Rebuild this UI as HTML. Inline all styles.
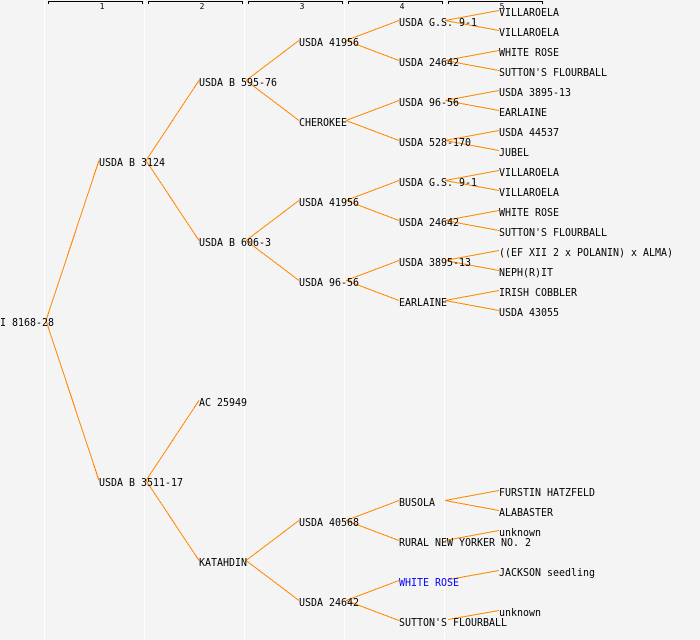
<!DOCTYPE html>
<html><head><meta charset="utf-8"><style>
html,body{margin:0;padding:0;background:#f4f4f4}
svg{display:block}
text{font-family:"DejaVu Sans Mono","Liberation Mono",monospace;font-size:11px;fill:#000}
.h{font-size:8px;text-anchor:middle}
</style></head><body>
<svg width="700" height="640" viewBox="0 0 700 640" xmlns="http://www.w3.org/2000/svg">
<rect width="700" height="640" fill="#f4f4f4"/>
<g stroke="#fff" stroke-width="1" shape-rendering="crispEdges">
<path d="M44.5 0V640M144.5 0V640M244.5 0V640M344.5 0V640M444.5 0V640"/>
</g>
<g fill="none" stroke="#000" stroke-width="1" shape-rendering="crispEdges">
<path d="M48.5 4V1.5H142.5V4M148.5 4V1.5H242.5V4M248.5 4V1.5H342.5V4M348.5 4V1.5H442.5V4M448.5 4V1.5H542.5V4"/>
</g>
<text class="h" x="102" y="9">1</text><text class="h" x="202" y="9">2</text><text class="h" x="302" y="9">3</text><text class="h" x="402" y="9">4</text><text class="h" x="502" y="9">5</text>
<g fill="none" stroke="#ff8800" stroke-width="1" shape-rendering="crispEdges" transform="translate(0,-0.5)">
<path d="M46 321L99 161M46 321L99 481"/>
<path d="M146 161L199 81M146 161L199 241M146 481L199 401M146 481L199 561"/>
<path d="M246 81L299 41M246 81L299 121M246 241L299 201M246 241L299 281M246 561L299 521M246 561L299 601"/>
<path d="M346 41L399 21M346 41L399 61M346 121L399 101M346 121L399 141M346 201L399 181M346 201L399 221M346 281L399 261M346 281L399 301M346 521L399 501M346 521L399 541M346 601L399 581M346 601L399 621"/>
<path d="M445 21L499 11M445 21L499 31M445 61L499 51M445 61L499 71M445 101L499 91M445 101L499 111M445 141L499 131M445 141L499 151M445 181L499 171M445 181L499 191M445 221L499 211M445 221L499 231M445 261L499 251M445 261L499 271M445 301L499 291M445 301L499 311M445 501L499 491M445 501L499 511M445 541L499 531M449 580L499 571M448 620L499 611"/>
</g>
<text x="0" y="326" textLength="54" lengthAdjust="spacingAndGlyphs">I 8168-28</text>
<text x="99" y="166" textLength="66" lengthAdjust="spacingAndGlyphs">USDA B 3124</text>
<text x="99" y="486" textLength="84" lengthAdjust="spacingAndGlyphs">USDA B 3511-17</text>
<text x="199" y="86" textLength="78" lengthAdjust="spacingAndGlyphs">USDA B 595-76</text>
<text x="199" y="246" textLength="72" lengthAdjust="spacingAndGlyphs">USDA B 606-3</text>
<text x="199" y="406" textLength="48" lengthAdjust="spacingAndGlyphs">AC 25949</text>
<text x="199" y="566" textLength="48" lengthAdjust="spacingAndGlyphs">KATAHDIN</text>
<text x="299" y="46" textLength="60" lengthAdjust="spacingAndGlyphs">USDA 41956</text>
<text x="299" y="126" textLength="48" lengthAdjust="spacingAndGlyphs">CHEROKEE</text>
<text x="299" y="206" textLength="60" lengthAdjust="spacingAndGlyphs">USDA 41956</text>
<text x="299" y="286" textLength="60" lengthAdjust="spacingAndGlyphs">USDA 96-56</text>
<text x="299" y="526" textLength="60" lengthAdjust="spacingAndGlyphs">USDA 40568</text>
<text x="299" y="606" textLength="60" lengthAdjust="spacingAndGlyphs">USDA 24642</text>
<text x="399" y="26" textLength="78" lengthAdjust="spacingAndGlyphs">USDA G.S. 9-1</text>
<text x="399" y="66" textLength="60" lengthAdjust="spacingAndGlyphs">USDA 24642</text>
<text x="399" y="106" textLength="60" lengthAdjust="spacingAndGlyphs">USDA 96-56</text>
<text x="399" y="146" textLength="72" lengthAdjust="spacingAndGlyphs">USDA 528-170</text>
<text x="399" y="186" textLength="78" lengthAdjust="spacingAndGlyphs">USDA G.S. 9-1</text>
<text x="399" y="226" textLength="60" lengthAdjust="spacingAndGlyphs">USDA 24642</text>
<text x="399" y="266" textLength="72" lengthAdjust="spacingAndGlyphs">USDA 3895-13</text>
<text x="399" y="306" textLength="48" lengthAdjust="spacingAndGlyphs">EARLAINE</text>
<text x="399" y="506" textLength="36" lengthAdjust="spacingAndGlyphs">BUSOLA</text>
<text x="399" y="546" textLength="132" lengthAdjust="spacingAndGlyphs">RURAL NEW YORKER NO. 2</text>
<text x="399" y="586" textLength="60" lengthAdjust="spacingAndGlyphs" style="fill:#0000ff">WHITE ROSE</text>
<text x="399" y="626" textLength="108" lengthAdjust="spacingAndGlyphs">SUTTON'S FLOURBALL</text>
<text x="499" y="16" textLength="60" lengthAdjust="spacingAndGlyphs">VILLAROELA</text>
<text x="499" y="36" textLength="60" lengthAdjust="spacingAndGlyphs">VILLAROELA</text>
<text x="499" y="56" textLength="60" lengthAdjust="spacingAndGlyphs">WHITE ROSE</text>
<text x="499" y="76" textLength="108" lengthAdjust="spacingAndGlyphs">SUTTON'S FLOURBALL</text>
<text x="499" y="96" textLength="72" lengthAdjust="spacingAndGlyphs">USDA 3895-13</text>
<text x="499" y="116" textLength="48" lengthAdjust="spacingAndGlyphs">EARLAINE</text>
<text x="499" y="136" textLength="60" lengthAdjust="spacingAndGlyphs">USDA 44537</text>
<text x="499" y="156" textLength="30" lengthAdjust="spacingAndGlyphs">JUBEL</text>
<text x="499" y="176" textLength="60" lengthAdjust="spacingAndGlyphs">VILLAROELA</text>
<text x="499" y="196" textLength="60" lengthAdjust="spacingAndGlyphs">VILLAROELA</text>
<text x="499" y="216" textLength="60" lengthAdjust="spacingAndGlyphs">WHITE ROSE</text>
<text x="499" y="236" textLength="108" lengthAdjust="spacingAndGlyphs">SUTTON'S FLOURBALL</text>
<text x="499" y="256" textLength="174" lengthAdjust="spacingAndGlyphs">((EF XII 2 x POLANIN) x ALMA)</text>
<text x="499" y="276" textLength="54" lengthAdjust="spacingAndGlyphs">NEPH(R)IT</text>
<text x="499" y="296" textLength="78" lengthAdjust="spacingAndGlyphs">IRISH COBBLER</text>
<text x="499" y="316" textLength="60" lengthAdjust="spacingAndGlyphs">USDA 43055</text>
<text x="499" y="496" textLength="96" lengthAdjust="spacingAndGlyphs">FURSTIN HATZFELD</text>
<text x="499" y="516" textLength="54" lengthAdjust="spacingAndGlyphs">ALABASTER</text>
<text x="499" y="536" textLength="42" lengthAdjust="spacingAndGlyphs">unknown</text>
<text x="499" y="576" textLength="96" lengthAdjust="spacingAndGlyphs">JACKSON seedling</text>
<text x="499" y="616" textLength="42" lengthAdjust="spacingAndGlyphs">unknown</text>
</svg>
</body></html>
